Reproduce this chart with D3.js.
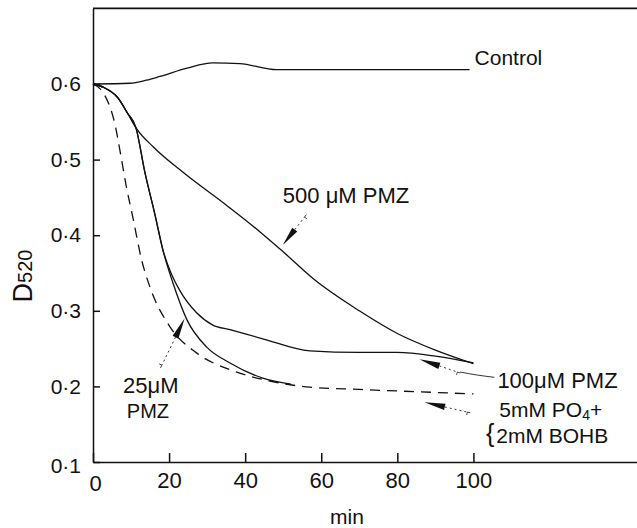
<!DOCTYPE html>
<html>
<head>
<meta charset="utf-8">
<script src="https://cdn.jsdelivr.net/npm/d3@7"></script>
<style>
body { margin: 0; background: #fff; }
svg text { font-family: "Liberation Sans", Arial, sans-serif; fill: #111; }
</style>
</head>
<body>
<svg id="chart" width="637" height="528"></svg>
<script>
// tick values
var xTicks = [0, 20, 40, 60, 80, 100];
var yTicks = [0.1, 0.2, 0.3, 0.4, 0.5, 0.6];

// [min, D520]
var control = [[0, 0.6], [9.7, 0.601], [14, 0.605], [17.6, 0.610], [24.7, 0.621], [31.5, 0.628],
	[38.6, 0.627], [48.3, 0.619], [60, 0.619], [80, 0.619], [99, 0.619]];

var pmz500 = [[0, 0.6], [3, 0.595], [6.5, 0.582], [9, 0.562], [11.3, 0.542], [16, 0.516], [24, 0.482],
	[35, 0.44], [44, 0.404], [50, 0.378], [58, 0.342], [70, 0.300], [80, 0.270], [90, 0.248], [100, 0.230]];

var pmz100 = [[0, 0.6], [3, 0.595], [6.5, 0.582], [9, 0.562], [11.3, 0.542], [13.6, 0.484], [16.3, 0.427],
	[18.4, 0.380], [20.5, 0.350], [22.8, 0.327], [27.3, 0.297], [31.5, 0.281], [36, 0.275], [44.6, 0.263],
	[57, 0.247], [70, 0.245], [80, 0.245], [90, 0.240], [100, 0.231]];

var pmz25 = [[0, 0.6], [3, 0.595], [6.5, 0.582], [9, 0.562], [11.3, 0.542], [13.6, 0.484], [16.3, 0.427],
	[18.4, 0.380], [21, 0.337], [24.7, 0.288], [29.9, 0.252], [36, 0.231], [44.6, 0.211], [52, 0.203]];

var po4Bohb = [[0, 0.6], [3.1, 0.585], [5.8, 0.546], [7.3, 0.506], [8.7, 0.466], [10.5, 0.423],
	[12.8, 0.367], [15, 0.331], [20.2, 0.279], [27.3, 0.244], [36, 0.222], [45.7, 0.208], [57, 0.199],
	[70, 0.196], [85, 0.193], [100, 0.19]];

var svg = d3.select("#chart");

var xScale = d3.scaleLinear()
			.domain([0, 143])
			.range([93, 637]);

var yScale = d3.scaleLinear()
			.domain([0.1, 0.7])
			.range([462, 8.4]);

var xAxis = d3.axisBottom()
			.scale(xScale)
			.tickValues(xTicks)
			.tickSizeInner(-9)
			.tickSizeOuter(0)
			.tickPadding(10)
			.tickFormat(d3.format("d"));

var yAxis = d3.axisLeft()
			.scale(yScale)
			.tickValues(yTicks)
			.tickSizeInner(-7)
			.tickSizeOuter(0)
			.tickPadding(12)
			.tickFormat(function(d){ return d3.format(".1f")(d).replace(".", "·"); });

var x_axis = svg.append("g")
	.attr("transform", "translate(0," + yScale(0.1) + ")")
	.call(xAxis);

var y_axis = svg.append("g")
	.attr("transform", "translate(" + xScale(0) + ",0)")
	.call(yAxis);

svg.selectAll(".domain, .tick line").attr("stroke", "#111").attr("stroke-width", 1.5);
x_axis.selectAll("text").attr("font-size", 22).attr("font-family", null);
y_axis.selectAll("text").attr("font-size", 21).attr("font-family", null);
// the origin labels sit a little low in the figure
x_axis.selectAll("text").filter(function(d){ return d === 0; }).attr("y", 13).attr("x", 2);
y_axis.selectAll("text").filter(function(d){ return d === 0.1; }).attr("y", 4);

// top of frame
svg.append("line")
	.attr("x1", xScale(0)).attr("x2", xScale(143))
	.attr("y1", yScale(0.7)).attr("y2", yScale(0.7))
	.attr("stroke", "#111").attr("stroke-width", 1.6);

var line = d3.line()
	.x(function(d){ return xScale(d[0]); })
	.y(function(d){ return yScale(d[1]); })
	.curve(d3.curveMonotoneX);

[control, pmz500, pmz100, pmz25].forEach(function(s){
	svg.append("path")
		.attr("d", line(s))
		.attr("fill", "none")
		.attr("stroke", "#111")
		.attr("stroke-width", 1.3);
});

svg.append("path")
	.attr("d", line(po4Bohb))
	.attr("fill", "none")
	.attr("stroke", "#111")
	.attr("stroke-width", 1.3)
	.attr("stroke-dasharray", "10,7");

// pointer arrows: tip and tail in data units
function arrow(tip, tail){
	var x0 = xScale(tip[0]), y0 = yScale(tip[1]);
	var x1 = xScale(tail[0]), y1 = yScale(tail[1]);
	var dx = x1 - x0, dy = y1 - y0;
	var len = Math.sqrt(dx * dx + dy * dy);
	var ux = dx / len, uy = dy / len;
	var hl = Math.min(21, len * 0.55);
	var bx = x0 + ux * hl, by = y0 + uy * hl;
	svg.append("path")
		.attr("d", "M" + x0 + "," + y0 + "L" + (bx - uy * 3.2) + "," + (by + ux * 3.2) +
			"L" + (bx + uy * 3.2) + "," + (by - ux * 3.2) + "Z")
		.attr("fill", "#111");
	svg.append("line")
		.attr("x1", bx).attr("y1", by).attr("x2", x1).attr("y2", y1)
		.attr("stroke", "#333").attr("stroke-width", 1)
		.attr("stroke-dasharray", "2,3");
	// little hook at the tail
	svg.append("path")
		.attr("d", "M" + (x1 - uy * 3) + "," + (y1 + ux * 3) + "L" + x1 + "," + y1 +
			"L" + (x1 + ux * 3) + "," + (y1 + uy * 3))
		.attr("fill", "none").attr("stroke", "#444").attr("stroke-width", 1);
}

arrow([49.9, 0.387], [55.6, 0.424]);
arrow([24.1, 0.290], [18.1, 0.228]);
arrow([85.8, 0.236], [95.8, 0.219]);
arrow([87.1, 0.179], [98.4, 0.166]);

// leader from 100 uM label
svg.append("path")
	.attr("d", line([[96.5, 0.219], [101, 0.215], [105.5, 0.212]]))
	.attr("fill", "none").attr("stroke", "#333").attr("stroke-width", 1);

function label(x, y, txt, size){
	return svg.append("text")
		.attr("x", xScale(x))
		.attr("y", yScale(y))
		.attr("font-size", size || 21)
		.text(txt);
}

label(100.3, 0.625, "Control");
label(49.9, 0.443, "500 μM PMZ", 22);
label(7.9, 0.191, "25μM", 22);
label(8.9, 0.158, "PMZ", 20);
label(106.3, 0.198, "100μM PMZ", 22);
var po = label(106.8, 0.159, "5mM PO", 21);
po.append("tspan").attr("font-size", 14).attr("dy", 3).text("4");
po.append("tspan").attr("dy", -3).text("+");
label(106, 0.125, "2mM BOHB", 21);
svg.append("text")
	.attr("x", xScale(103.3))
	.attr("y", yScale(0.127))
	.attr("font-size", 25)
	.attr("font-weight", 300)
	.attr("fill", "#555")
	.text("{");

// axis titles
var yt = svg.append("text")
	.attr("transform", "translate(32,276) rotate(-90)")
	.attr("text-anchor", "middle");
yt.append("tspan").attr("font-size", 27).text("D");
yt.append("tspan").attr("font-size", 20).text("520");

svg.append("text")
	.attr("x", 347)
	.attr("y", 524)
	.attr("text-anchor", "middle")
	.attr("font-size", 21)
	.text("min");
</script>
</body>
</html>
